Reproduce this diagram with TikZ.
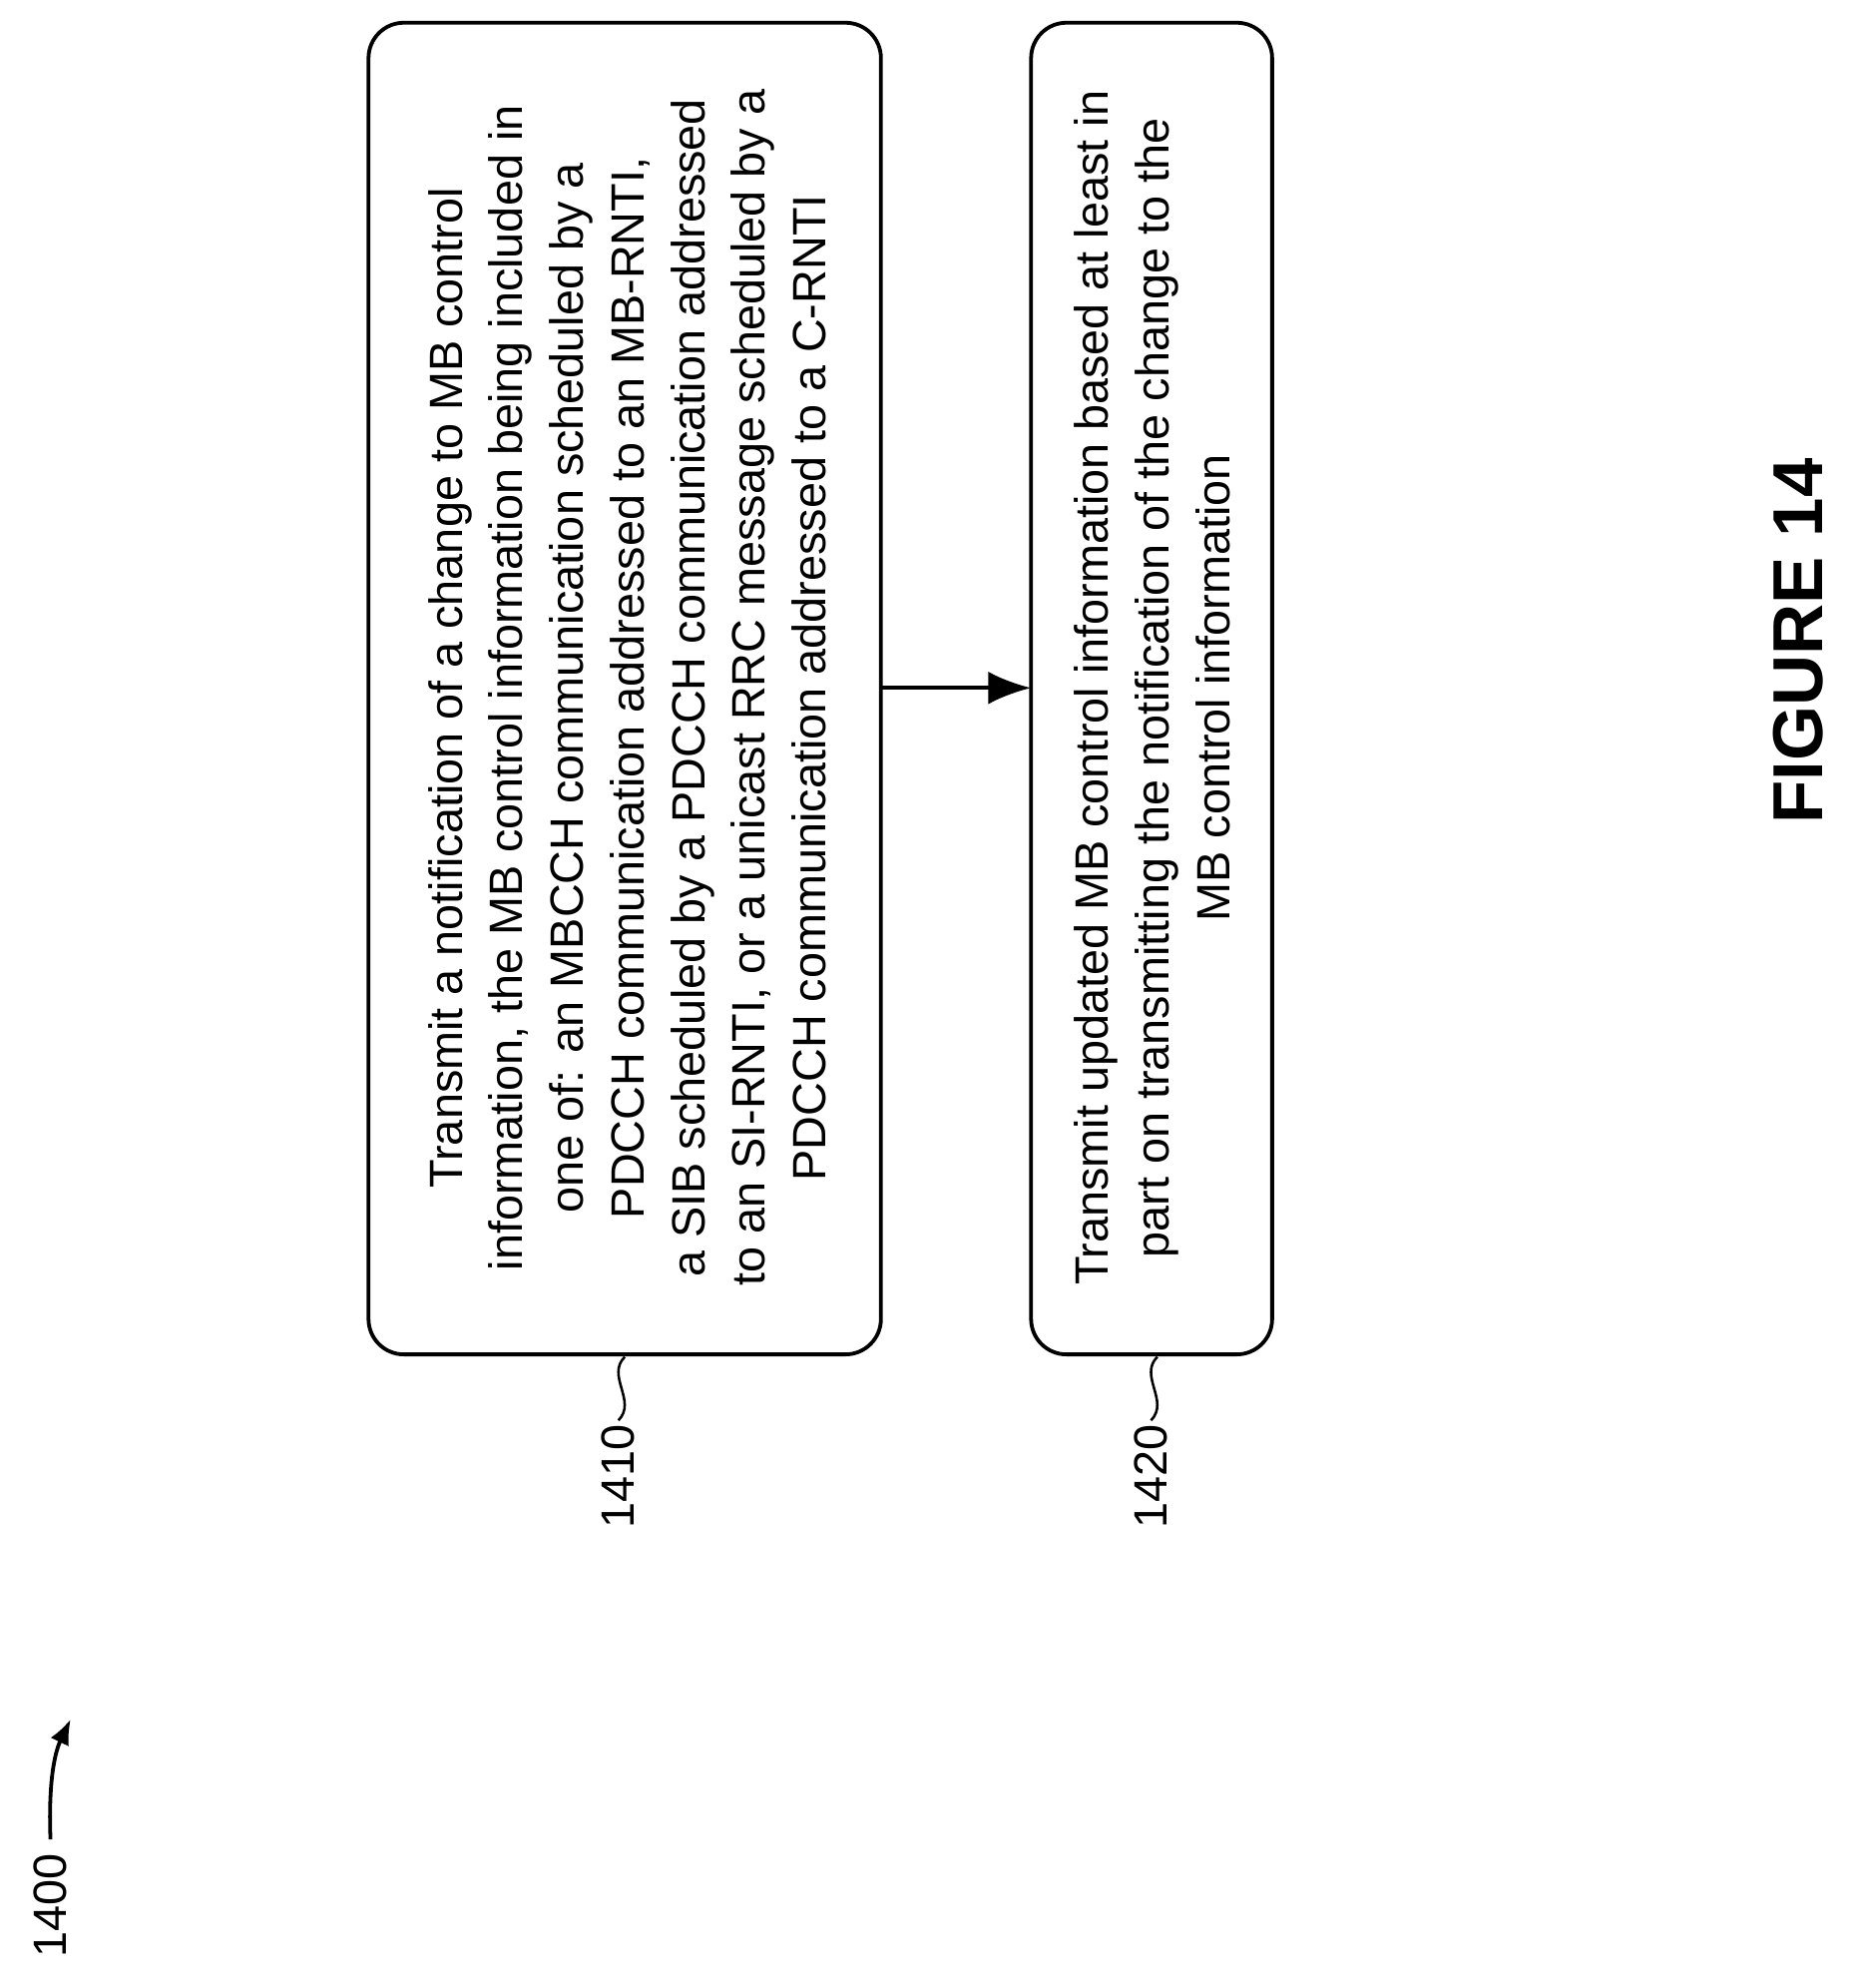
\documentclass[tikz,border=0pt]{standalone}
\usepackage{fontspec}
\setmainfont{Liberation Sans}
\usetikzlibrary{arrows.meta}
\tikzset{
  stepbox/.style={draw, line width=3pt, rounded corners=28pt},
  steptext/.style={rotate=90, align=center, font=\fontsize{37}{48}\selectfont},
  reflabel/.style={rotate=90, font=\fontsize{37}{44}\selectfont},
}
\begin{document}
\begin{tikzpicture}[x=1pt,y=-1pt]
    \useasboundingbox (0,0) rectangle (1470,1575);

    % step boxes
    \draw[stepbox] (292,18) rectangle (698,1073);
    \draw[stepbox] (817,18) rectangle (1008,1073);
    \coordinate (box1east) at (698,545);
    \coordinate (box2west) at (817,545);

    \node[steptext] (step1410) at (497,545) {Transmit a notification of a change to MB control\\
      information, the MB control information being included in\\
      one of: an MBCCH communication scheduled by a\\
      PDCCH communication addressed to an MB-RNTI,\\
      a SIB scheduled by a PDCCH communication addressed\\
      to an SI-RNTI, or a unicast RRC message scheduled by a\\
      PDCCH communication addressed to a C-RNTI};
    \node[steptext] (step1420) at (913,545) {Transmit updated MB control information based at least in\\
      part on transmitting the notification of the change to the\\
      MB control information};

    \draw[line width=3pt, -{Latex[length=34pt,width=26pt]}] (box1east) -- (box2west);

    % reference numerals
    \node[reflabel] (lbl1410) at (490,1170) {1410};
    \node[reflabel] (lbl1420) at (912,1170) {1420};
    \draw[line width=2pt] (495,1075) .. controls (480,1090) and (505,1110) .. (lbl1410.east);
    \draw[line width=2pt] (917,1075) .. controls (902,1090) and (927,1110) .. (lbl1420.east);

    \node[reflabel] (lbl1400) at (40,1510) {1400};
    \draw[line width=3pt, -{Latex[length=20pt,width=16pt]}] (lbl1400.east) ++(0,-8) .. controls (38,1405) and (45,1385) .. (56,1362);

    \node[rotate=90, font=\bfseries\fontsize{56}{60}\selectfont] (fig) at (1425,508) {FIGURE 14};
\end{tikzpicture}
\end{document}
